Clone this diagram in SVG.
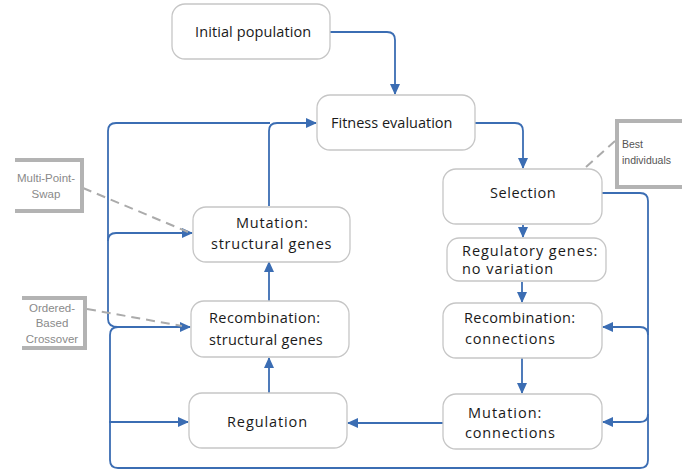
<svg xmlns="http://www.w3.org/2000/svg" width="682" height="470" viewBox="0 0 682 470">
<defs>
<marker id="ah" markerWidth="11" markerHeight="10" refX="10" refY="5" orient="auto" markerUnits="userSpaceOnUse">
<path d="M0,0 L11,5 L0,10 Z" fill="#3b6db3"/>
</marker>
<style>
.box{fill:#fff;stroke:#c6c6c6;stroke-width:1.3}
.t{font-family:"Open Sans","Liberation Sans",sans-serif;font-size:14.5px;fill:#1a1a1a}
.c{stroke:#3b6db3;stroke-width:1.8;fill:none}
.a{marker-end:url(#ah)}
.dash{stroke:#ababab;stroke-width:2;stroke-dasharray:9,6;fill:none}
.br{stroke:#b3b3b3;stroke-width:4;fill:none}
.s{font-family:"Liberation Sans",sans-serif;font-size:11.5px;fill:#8a8a8a}
.b{font-family:"Liberation Sans",sans-serif;font-size:10.5px;fill:#555}
</style>
</defs>
<rect width="682" height="470" fill="#fff"/>

<g id="connectors">
<path class="c a" d="M330,32 H387 Q395,32 395,40 V94"/>
<path class="c a" d="M475,123 H515 Q523,123 523,131 V168"/>
<path class="c a" d="M523,225 V237"/>
<path class="c a" d="M522,282 V302"/>
<path class="c a" d="M522,358 V393"/>
<path class="c a" d="M443,423 H348"/>
<path class="c a" d="M269,393 V358"/>
<path class="c a" d="M269,301 V262"/>
<path class="c a" d="M269,206 V131 Q269,123 277,123 H316"/>
<path class="c" d="M118,327 Q108,327 108,319 V131 Q108,123 116,123 H270"/>
<path class="c a" d="M108,241 Q108,233 116,233 H192"/>
<path class="c a" d="M602,193 H640 Q648,193 648,201 V460 Q648,468 640,468 H118 Q110,468 110,460 V335 Q110,327 118,327 H190"/>
<path class="c a" d="M648,335 Q648,327 640,327 H603"/>
<path class="c a" d="M648,414 Q648,422 640,422 H603"/>
<path class="c a" d="M109,422 H188"/>
<path class="dash" d="M83,188 L188,232"/>
<path class="dash" d="M87,309 L182,326"/>
<path class="dash" d="M615,141 L585,168"/>
</g>

<g id="initial-population">
<rect class="box" x="172" y="4" width="158" height="55" rx="13"/>
<text class="t" x="195" y="37" letter-spacing="0.1">Initial population</text>
</g>
<g id="fitness-evaluation">
<rect class="box" x="317" y="95" width="158" height="55" rx="13"/>
<text class="t" x="331" y="128">Fitness evaluation</text>
</g>
<g id="selection">
<rect class="box" x="443" y="169" width="159" height="55" rx="13"/>
<text class="t" x="490" y="198" letter-spacing="0.55">Selection</text>
</g>
<g id="regulatory-genes">
<rect class="box" x="447" y="238" width="159" height="43" rx="12"/>
<text class="t" x="462" y="256" letter-spacing="0.95">Regulatory genes:</text>
<text class="t" x="462" y="274" letter-spacing="0.95">no variation</text>
</g>
<g id="recombination-connections">
<rect class="box" x="443" y="303" width="159" height="55" rx="13"/>
<text class="t" x="464" y="323" letter-spacing="0.4">Recombination:</text>
<text class="t" x="465" y="344" letter-spacing="0.8">connections</text>
</g>
<g id="mutation-connections">
<rect class="box" x="443" y="394" width="159" height="55" rx="13"/>
<text class="t" x="468" y="418" letter-spacing="1">Mutation:</text>
<text class="t" x="465" y="438" letter-spacing="0.8">connections</text>
</g>
<g id="regulation">
<rect class="box" x="189" y="393" width="158" height="55" rx="13"/>
<text class="t" x="227" y="427" letter-spacing="0.9">Regulation</text>
</g>
<g id="recombination-structural">
<rect class="box" x="191" y="301" width="158" height="56" rx="13"/>
<text class="t" x="209" y="323" letter-spacing="0.4">Recombination:</text>
<text class="t" x="209" y="345" letter-spacing="0.3">structural genes</text>
</g>
<g id="mutation-structural">
<rect class="box" x="193" y="207" width="157" height="55" rx="13"/>
<text class="t" x="236" y="228" letter-spacing="0.8">Mutation:</text>
<text class="t" x="211" y="249" letter-spacing="0.75">structural genes</text>
</g>

<g id="multi-point-swap">
<path class="br" d="M15,160 H82 V211 H15"/>
<text class="s" x="46" y="182" text-anchor="middle">Multi-Point-</text>
<text class="s" x="46" y="198" text-anchor="middle">Swap</text>
</g>
<g id="ordered-based-crossover">
<path class="br" d="M22,298 H85 V348 H22"/>
<text class="s" x="52" y="312" text-anchor="middle">Ordered-</text>
<text class="s" x="52" y="327" text-anchor="middle">Based</text>
<text class="s" x="52" y="343" text-anchor="middle">Crossover</text>
</g>
<g id="best-individuals">
<path class="br" d="M684,121 H617 V187 H684"/>
<text class="b" x="622" y="148">Best</text>
<text class="b" x="622" y="164">individuals</text>
</g>
</svg>
